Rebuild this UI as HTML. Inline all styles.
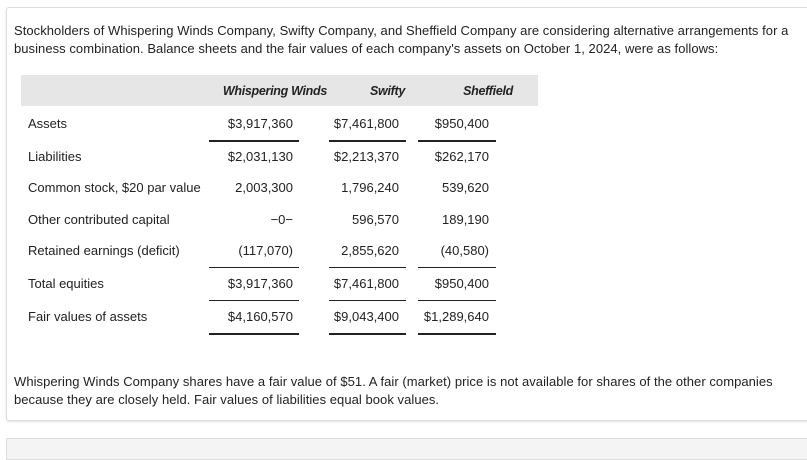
<!DOCTYPE html>
<html><head><meta charset="utf-8">
<style>
body{margin:0;width:807px;height:443px;background:#fff;font-family:"Liberation Sans",sans-serif;color:#222;position:relative;overflow:hidden}
.card{position:absolute;left:6px;top:7px;width:810px;height:412px;border:1px solid #ddd;border-radius:3px;box-shadow:0 1px 2px rgba(0,0,0,.12)}
.card2{position:absolute;left:6px;top:438px;width:810px;height:20px;border:1px solid #ddd;background:#f4f4f4}
.p{position:absolute;left:14px;font-size:13px;letter-spacing:0.05px;white-space:nowrap}
.hdr{position:absolute;left:21px;top:75px;width:517px;height:31px;background:#e6e6e6}
.h{position:absolute;top:84px;font-size:12.5px;font-weight:bold;font-style:italic;letter-spacing:-0.3px;text-align:right;white-space:nowrap}
.lbl{position:absolute;left:28px;font-size:13px;white-space:nowrap}
.v{position:absolute;font-size:13px;text-align:right;white-space:nowrap}
.ln{position:absolute;height:1px;background:#222}
</style></head><body>
<div class="card"></div>
<div class="card2"></div>
<div class="p" style="top:23px">Stockholders of Whispering Winds Company, Swifty Company, and Sheffield Company are considering alternative arrangements for a</div>
<div class="p" style="top:41px">business combination. Balance sheets and the fair values of each company's assets on October 1, 2024, were as follows:</div>
<div class="hdr"></div>
<div class="h" style="right:480px">Whispering Winds</div>
<div class="h" style="right:402px">Swifty</div>
<div class="h" style="right:294px">Sheffield</div>
<div id="rows"></div>
<div class="p" style="top:374px">Whispering Winds Company shares have a fair value of $51. A fair (market) price is not available for shares of the other companies</div>
<div class="p" style="top:392px">because they are closely held. Fair values of liabilities equal book values.</div>
<script>
const labels=["Assets","Liabilities","Common stock, $20 par value","Other contributed capital","Retained earnings (deficit)","Total equities","Fair values of assets"];
const ww=["$3,917,360","$2,031,130","2,003,300","\u22120\u2212","(117,070)","$3,917,360","$4,160,570"];
const sw=["$7,461,800","$2,213,370","1,796,240","596,570","2,855,620","$7,461,800","$9,043,400"];
const sh=["$950,400","$262,170","539,620","189,190","(40,580)","$950,400","$1,289,640"];
const rowTop=[116,149,180,212,243,276,309];
const rights=[807-293,807-399,807-489];
const colL=[209,329,418],colW=[90,77,78];
const lines=[[140,2],[267,1],[300,1],[333,2]];
const c=document.getElementById('rows');
labels.forEach((l,i)=>{
 const d=document.createElement('div');d.className='lbl';d.style.top=rowTop[i]+'px';d.textContent=l;
 
 
 c.appendChild(d);
 [ww,sw,sh].forEach((arr,j)=>{
  const v=document.createElement('div');v.className='v';v.style.top=rowTop[i]+'px';v.style.right=rights[j]+'px';v.textContent=arr[i];
  
  
  c.appendChild(v);
 });
});
lines.forEach(([y,h])=>{colL.forEach((x,j)=>{
 const e=document.createElement('div');e.className='ln';e.style.top=y+'px';e.style.height=h+'px';e.style.left=x+'px';e.style.width=colW[j]+'px';
 
 
 c.appendChild(e);
});});
</script>
</body></html>
